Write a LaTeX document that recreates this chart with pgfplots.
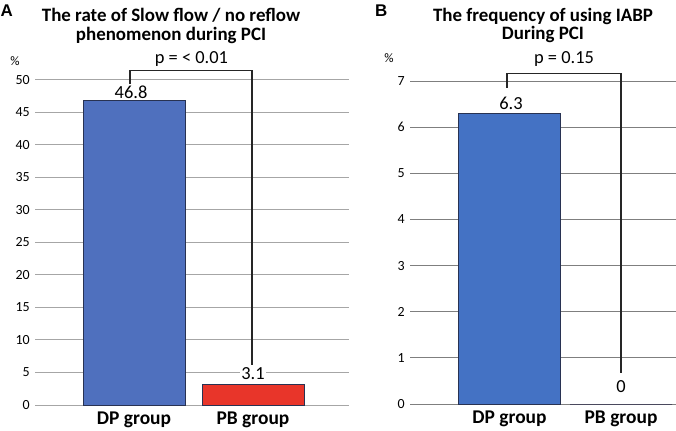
\documentclass[border=0pt]{standalone}
\usepackage{pgfplots}
\pgfplotsset{compat=1.18}
\usepackage{fontspec}
\setmainfont{Carlito}
\newfontfamily\arialb{Liberation Sans}
\definecolor{bluel}{HTML}{4F70BE}
\definecolor{bluer}{HTML}{4472C4}
\definecolor{redb}{HTML}{E8352A}
\definecolor{edge}{HTML}{283252}
\definecolor{gridl}{HTML}{A6A6A6}
\definecolor{gridr}{HTML}{7F7F7F}
\begin{document}
\begin{tikzpicture}
\path[use as bounding box] (0bp,0bp) rectangle (676bp,431bp);
\pgfplotsset{
  mybar/.style={
    scale only axis, clip=false,
    axis line style={draw=none},
    major tick length=0pt,
    ymajorgrids, ymin=0,
    xtick={0,1}, xticklabels={DP group, PB group},
    /pgf/number format/assume math mode=true,
    yticklabel style={font=\fontsize{14}{14}\selectfont, anchor=east, inner sep=0pt, xshift=-5bp},
    xticklabel style={font=\bfseries\fontsize{19.5}{19.5}\selectfont, anchor=north, inner sep=0pt, yshift=-7bp},
    ybar, bar width=102bp,
  }
}
% ---------- Panel A ----------
\begin{axis}[mybar, at={(35bp,26bp)}, anchor=south west, width=314bp, height=325bp,
  xmin=-0.832, xmax=1.807, ymax=50, ytick={0,5,...,50},
  grid style={gridl, line width=1bp}]
\addplot[fill=bluel, draw=edge, line width=0.8bp, bar shift=0pt] coordinates {(0,46.8)};
\addplot[fill=redb, draw=edge, line width=0.8bp, bar shift=0pt] coordinates {(1,3.1)};
\draw[line width=1.2bp, black!85] (axis cs:-0.034,49.4) -- (axis cs:-0.034,51.4) -- (axis cs:0.992,51.4) -- (axis cs:0.992,6.15);
\node[font=\fontsize{18.5}{18.5}\selectfont, inner sep=0pt] at (axis cs:-0.025,48.1) {46.8};
\node[font=\fontsize{18.5}{18.5}\selectfont, fill=white, inner sep=1.5bp] at (axis cs:1.0,4.77) {3.1};
\node[font=\fontsize{18.5}{18.5}\selectfont, inner sep=0pt] at (axis cs:0.483,53.2) {p = < 0.01};
\end{axis}
% ---------- Panel B ----------
\begin{axis}[mybar, at={(410bp,27bp)}, anchor=south west, width=266bp, height=323bp,
  xmin=-0.892, xmax=1.493, ymax=7, ytick={0,1,...,7},
  grid style={gridr, line width=1bp}]
\addplot[fill=bluer, draw=edge, line width=0.8bp, bar shift=0pt] coordinates {(0,6.3)};
\addplot[fill=redb, draw=edge, line width=0.8bp, bar shift=0pt] coordinates {(1,0)};
\draw[line width=1.2bp, black!85] (axis cs:-0.022,6.85) -- (axis cs:-0.022,7.17) -- (axis cs:1.0,7.17) -- (axis cs:1.0,0.67);
\node[font=\fontsize{18.5}{18.5}\selectfont, inner sep=0pt] at (axis cs:0.013,6.52) {6.3};
\node[font=\fontsize{18.5}{18.5}\selectfont, inner sep=0pt] at (axis cs:1.0,0.37) {0};
\node[font=\fontsize{18.5}{18.5}\selectfont, inner sep=0pt] at (axis cs:0.489,7.48) {p = 0.15};
\end{axis}
% ---------- titles and labels ----------
\node[font=\arialb\bfseries\fontsize{17}{17}\selectfont, anchor=base west, inner sep=0pt] at (0.5bp,414bp) {A};
\node[font=\arialb\bfseries\fontsize{17}{17}\selectfont, anchor=base west, inner sep=0pt] at (375bp,414bp) {B};
\node[font=\bfseries\fontsize{19}{19}\selectfont, anchor=base, inner sep=0pt] at (171bp,409.5bp) {The rate of Slow flow / no reflow};
\node[font=\bfseries\fontsize{19}{19}\selectfont, anchor=base, inner sep=0pt] at (171bp,390.5bp) {phenomenon during PCI};
\node[font=\bfseries\fontsize{19}{19}\selectfont, anchor=base, inner sep=0pt] at (543bp,409.5bp) {The frequency of using IABP};
\node[font=\bfseries\fontsize{19}{19}\selectfont, anchor=base, inner sep=0pt] at (543bp,391bp) {During PCI};
\node[font=\fontsize{13}{13}\selectfont, inner sep=0pt] at (15bp,370bp) {\%};
\node[font=\fontsize{13}{13}\selectfont, inner sep=0pt] at (389bp,373bp) {\%};
\end{tikzpicture}
\end{document}
